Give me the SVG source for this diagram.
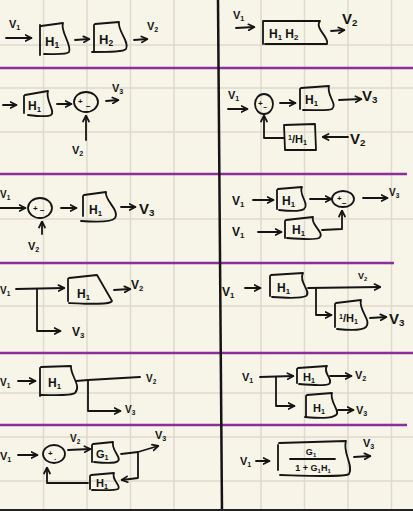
<svg xmlns="http://www.w3.org/2000/svg" width="413" height="511" viewBox="0 0 413 511">
  <defs>
    <marker id="ah" viewBox="0 0 8 8" refX="6.5" refY="4" markerWidth="8" markerHeight="8" markerUnits="userSpaceOnUse" orient="auto">
      <path d="M1,1 L7,4 L1,7" fill="none" stroke="#141414" stroke-width="1.7" stroke-linecap="round" stroke-linejoin="round"/>
    </marker>
    <style>
      .grid { stroke: #dedace; stroke-width: 1.5; }
      .rule { stroke: #8b2f9b; stroke-width: 2.5; }
      .ink { fill: none; stroke: #141414; stroke-width: 1.8; stroke-linecap: round; stroke-linejoin: round; }
      .arr { fill: none; stroke: #141414; stroke-width: 1.8; stroke-linecap: round; stroke-linejoin: round; marker-end: url(#ah); }
      text { font-family: "Liberation Sans", Arial, sans-serif; fill: #141414; font-weight: bold; }
      .s { font-size: 0.65em; }
    </style>
  </defs>

  <!-- paper -->
  <rect x="0" y="0" width="413" height="511" fill="#f7f4e8"/>
  <g id="grid">
    <line class="grid" x1="43.5" y1="0" x2="43.5" y2="511"/>
    <line class="grid" x1="87" y1="0" x2="87" y2="511"/>
    <line class="grid" x1="130.5" y1="0" x2="130.5" y2="511"/>
    <line class="grid" x1="174" y1="0" x2="174" y2="511"/>
    <line class="grid" x1="261" y1="0" x2="261" y2="511"/>
    <line class="grid" x1="304.5" y1="0" x2="304.5" y2="511"/>
    <line class="grid" x1="348" y1="0" x2="348" y2="511"/>
    <line class="grid" x1="391.5" y1="0" x2="391.5" y2="511"/>
    <line class="grid" x1="0" y1="45" x2="413" y2="45"/>
    <line class="grid" x1="0" y1="88" x2="413" y2="88"/>
    <line class="grid" x1="0" y1="132" x2="413" y2="132"/>
    <line class="grid" x1="0" y1="219" x2="413" y2="219"/>
    <line class="grid" x1="0" y1="306" x2="413" y2="306"/>
    <line class="grid" x1="0" y1="393" x2="413" y2="393"/>
    <line class="grid" x1="0" y1="437" x2="413" y2="437"/>
    <line class="grid" x1="0" y1="481" x2="413" y2="481"/>
  </g>
  <g id="rules">
    <line class="rule" x1="0" y1="68" x2="413" y2="68"/>
    <line class="rule" x1="0" y1="174" x2="407" y2="174"/>
    <line class="rule" x1="0" y1="263" x2="394" y2="263"/>
    <line class="rule" x1="0" y1="353" x2="413" y2="353"/>
    <line class="rule" x1="0" y1="425" x2="407" y2="425"/>
    <line x1="218" y1="0" x2="222" y2="511" stroke="#141414" stroke-width="2.5"/>
    <rect x="0" y="509" width="413" height="2" fill="#222"/>
  </g>

  <!-- row 1: series blocks -->
  <g id="r1-left">
    <text x="9" y="28" font-size="11">V<tspan class="s" dy="2">1</tspan></text>
    <g id="r1l-h1">
      <path class="ink" d="M40 25 L40 55 M41 26 L63 23 C60 32 72 44 69 52 C67 55 55 54 44 54"/>
      <text x="45" y="46" font-size="13">H<tspan class="s" dy="2">1</tspan></text>
    </g>
    <g id="r1l-h2">
      <path class="ink" d="M94 25 L94 51 M95 24 L119 22 C117 30 130 42 126 49 C124 52 110 52 92 52"/>
      <text x="99" y="44" font-size="13">H<tspan class="s" dy="2">2</tspan></text>
    </g>
    <text x="147" y="30" font-size="11">V<tspan class="s" dy="2">2</tspan></text>
  </g>
  <g id="r1-right">
    <text x="233" y="19" font-size="11">V<tspan class="s" dy="2">1</tspan></text>
    <g id="r1r-h1h2">
      <path class="ink" d="M263 21 L263 44 M264 21 L320 21 C314 28 330 38 327 44 L265 44"/>
      <text x="269" y="38" font-size="12">H<tspan class="s" dy="2">1</tspan><tspan dy="-2"> H</tspan><tspan class="s" dy="2">2</tspan></text>
    </g>
    <text x="342" y="24" font-size="15">V<tspan class="s" dy="2">2</tspan></text>
  </g>

  <!-- row 2: moving a summing point -->
  <g id="r2-left">
    <g id="r2l-h1">
      <path class="ink" d="M24 96 L24 113 M25 95 L48 91 C45 100 56 112 51 115 C48 117 36 116 28 115"/>
      <text x="28" y="110" font-size="12">H<tspan class="s" dy="2">1</tspan></text>
    </g>
    <g id="r2l-sum">
      <ellipse class="ink" cx="86" cy="102" rx="12" ry="10"/>
      <text x="78" y="104" font-size="8">+</text>
      <text x="86" y="109" font-size="8">−</text>
    </g>
    <text x="112" y="92" font-size="11">V<tspan class="s" dy="2">3</tspan></text>
    <text x="72" y="154" font-size="11">V<tspan class="s" dy="2">2</tspan></text>
  </g>
  <g id="r2-right">
    <text x="228" y="99" font-size="11">V<tspan class="s" dy="2">1</tspan></text>
    <g id="r2r-sum">
      <ellipse class="ink" cx="264" cy="104" rx="9" ry="10"/>
      <text x="258" y="106" font-size="8">+</text>
      <text x="263" y="110" font-size="7">−</text>
    </g>
    <g id="r2r-h1">
      <path class="ink" d="M300 89 L300 109 M301 88 L329 86 C326 95 338 104 332 109 C329 111 316 110 303 110"/>
      <text x="305" y="104" font-size="12">H<tspan class="s" dy="2">1</tspan></text>
    </g>
    <text x="362" y="101" font-size="15">V<tspan class="s" dy="2">3</tspan></text>
    <g id="r2r-inv">
      <path class="ink" d="M284 125 L315 124 L316 150 L285 150 Z"/>
      <text x="288" y="143" font-size="11"><tspan class="s" dy="-3">1</tspan><tspan dy="3">/H</tspan><tspan class="s" dy="2">1</tspan></text>
    </g>
    <text x="350" y="144" font-size="15">V<tspan class="s" dy="2">2</tspan></text>
  </g>

  <!-- row 3: summing point ahead of block -->
  <g id="r3-left">
    <text x="0" y="198" font-size="10">V<tspan class="s" dy="2">1</tspan></text>
    <g id="r3l-sum">
      <ellipse class="ink" cx="40" cy="208" rx="12" ry="10"/>
      <text x="33" y="211" font-size="8">+</text>
      <text x="40" y="213" font-size="8">−</text>
    </g>
    <text x="28" y="250" font-size="11">V<tspan class="s" dy="2">2</tspan></text>
    <g id="r3l-h1">
      <path class="ink" d="M83 196 L83 216 M84 195 L106 192 C104 200 120 210 115 218 C112 222 95 222 81 221"/>
      <text x="89" y="214" font-size="12">H<tspan class="s" dy="2">1</tspan></text>
    </g>
    <text x="139" y="214" font-size="15">V<tspan class="s" dy="2">3</tspan></text>
  </g>
  <g id="r3-right">
    <text x="232" y="205" font-size="12">V<tspan class="s" dy="2">1</tspan></text>
    <g id="r3r-h1a">
      <path class="ink" d="M277 190 L277 209 M278 189 L302 187 C298 194 310 204 304 209 C300 212 288 211 279 210"/>
      <text x="282" y="205" font-size="12">H<tspan class="s" dy="2">1</tspan></text>
    </g>
    <g id="r3r-sum">
      <ellipse class="ink" cx="343" cy="199" rx="11" ry="8"/>
      <text x="337" y="201" font-size="8">+</text>
      <text x="342" y="206" font-size="8">−</text>
    </g>
    <text x="389" y="196" font-size="10">V<tspan class="s" dy="2">3</tspan></text>
    <text x="232" y="236" font-size="12">V<tspan class="s" dy="2">1</tspan></text>
    <g id="r3r-h1b">
      <path class="ink" d="M285 221 L285 238 M286 220 L313 217 C310 225 326 233 319 238 C315 240 300 239 287 238"/>
      <text x="292" y="234" font-size="12">H<tspan class="s" dy="2">1</tspan></text>
    </g>
  </g>

  <!-- row 4: moving a takeoff point ahead of block -->
  <g id="r4-left">
    <text x="0" y="294" font-size="10">V<tspan class="s" dy="2">1</tspan></text>
    <g id="r4l-h1">
      <path class="ink" d="M68 279 L68 301 M69 278 L97 275 L112 301 C110 305 90 304 69 303"/>
      <text x="77" y="298" font-size="12">H<tspan class="s" dy="2">1</tspan></text>
    </g>
    <text x="131" y="289" font-size="12">V<tspan class="s" dy="2">2</tspan></text>
    <text x="72" y="336" font-size="12">V<tspan class="s" dy="2">3</tspan></text>
  </g>
  <g id="r4-right">
    <text x="222" y="296" font-size="12">V<tspan class="s" dy="2">1</tspan></text>
    <g id="r4r-h1">
      <path class="ink" d="M270 276 L270 296 M271 275 L303 273 C298 282 312 292 306 296 C302 298 286 298 272 297"/>
      <text x="277" y="292" font-size="12">H<tspan class="s" dy="2">1</tspan></text>
    </g>
    <text x="358" y="279" font-size="9">V<tspan class="s" dy="2">2</tspan></text>
    <g id="r4r-inv">
      <path class="ink" d="M335 304 L335 327 M336 303 L361 300 C358 310 372 320 366 327 C362 331 347 330 337 329"/>
      <text x="339" y="322" font-size="11"><tspan class="s" dy="-3">1</tspan><tspan dy="3">/H</tspan><tspan class="s" dy="2">1</tspan></text>
    </g>
    <text x="389" y="324" font-size="15">V<tspan class="s" dy="2">3</tspan></text>
  </g>

  <!-- row 5: moving a takeoff point past block -->
  <g id="r5-left">
    <text x="0" y="386" font-size="10">V<tspan class="s" dy="2">1</tspan></text>
    <g id="r5l-h1">
      <path class="ink" d="M40 368 L40 396 M41 367 L71 366 C70 375 82 386 75 393 C71 396 55 395 41 395"/>
      <text x="48" y="387" font-size="12">H<tspan class="s" dy="2">1</tspan></text>
    </g>
    <text x="146" y="382" font-size="10">V<tspan class="s" dy="2">2</tspan></text>
    <text x="125" y="413" font-size="10">V<tspan class="s" dy="2">3</tspan></text>
  </g>
  <g id="r5-right">
    <text x="242" y="381" font-size="11">V<tspan class="s" dy="2">1</tspan></text>
    <g id="r5r-h1a">
      <path class="ink" d="M297 369 L297 383 M298 368 L327 366 C322 372 334 380 329 384 C325 386 310 385 299 384"/>
      <text x="303" y="381" font-size="11">H<tspan class="s" dy="2">1</tspan></text>
    </g>
    <text x="355" y="379" font-size="11">V<tspan class="s" dy="2">2</tspan></text>
    <g id="r5r-h1b">
      <path class="ink" d="M306 396 L306 416 M307 395 L332 393 C329 401 341 412 336 415 C331 419 318 418 305 417"/>
      <text x="313" y="412" font-size="11">H<tspan class="s" dy="2">1</tspan></text>
    </g>
    <text x="356" y="414" font-size="11">V<tspan class="s" dy="2">3</tspan></text>
  </g>

  <!-- row 6: feedback loop -->
  <g id="r6-left">
    <text x="0" y="460" font-size="11">V<tspan class="s" dy="2">1</tspan></text>
    <g id="r6l-sum">
      <ellipse class="ink" cx="54" cy="454" rx="11" ry="9"/>
      <text x="48" y="456" font-size="8">+</text>
      <text x="54" y="460" font-size="8">.</text>
    </g>
    <text x="70" y="442" font-size="10">V<tspan class="s" dy="2">2</tspan></text>
    <g id="r6l-g1">
      <path class="ink" d="M92 445 L92 462 M93 444 L113 442 C111 450 122 458 118 461 C115 464 103 463 94 462"/>
      <text x="96" y="458" font-size="11">G<tspan class="s" dy="2">1</tspan></text>
    </g>
    <text x="155" y="439" font-size="11">V<tspan class="s" dy="2">3</tspan></text>
    <g id="r6l-h1">
      <path class="ink" d="M90 476 L90 489 M91 475 L114 473 C111 480 122 486 118 489 C114 491 102 490 92 490"/>
      <text x="96" y="487" font-size="11">H<tspan class="s" dy="2">1</tspan></text>
    </g>
  </g>
  <g id="r6-right">
    <text x="240" y="465" font-size="11">V<tspan class="s" dy="2">1</tspan></text>
    <g id="r6r-cl">
      <path class="ink" d="M278 445 L278 470 M279 443 L346 441 C342 452 354 466 349 474 C346 477 320 476 280 475"/>
      <text x="311" y="455" font-size="9" text-anchor="middle">G<tspan class="s" dy="2">1</tspan></text>
      <line class="ink" x1="290" y1="459" x2="335" y2="459"/>
      <text x="313" y="471" font-size="9" text-anchor="middle">1 + G<tspan class="s" dy="2">1</tspan><tspan dy="-2">H</tspan><tspan class="s" dy="2">1</tspan></text>
    </g>
    <text x="363" y="447" font-size="11">V<tspan class="s" dy="2">3</tspan></text>
  </g>

  <!-- signal lines -->
  <g id="connectors">
    <path class="arr" d="M6 38 L31 38"/>
    <path class="arr" d="M75 40 L89 39"/>
    <path class="arr" d="M134 40 L147 39"/>
    <path class="arr" d="M236 28 L254 27"/>
    <path class="arr" d="M331 31 L344 30"/>

    <path class="arr" d="M3 105 L16 105"/>
    <path class="arr" d="M57 104 L71 104"/>
    <path class="arr" d="M106 101 L118 100"/>
    <path class="arr" d="M86 140 L86 116"/>
    <path class="arr" d="M228 109 L247 109"/>
    <path class="arr" d="M280 103 L295 103"/>
    <path class="arr" d="M339 100 L361 99"/>
    <path class="arr" d="M284 138 L264 138 L264 116"/>
    <path class="arr" d="M348 137 L323 137"/>

    <path class="arr" d="M0 208 L25 208"/>
    <path class="arr" d="M42 234 L42 222"/>
    <path class="arr" d="M61 208 L76 208"/>
    <path class="arr" d="M121 207 L135 207"/>
    <path class="arr" d="M253 200 L273 200"/>
    <path class="arr" d="M310 199 L331 199"/>
    <path class="arr" d="M363 198 L387 198"/>
    <path class="arr" d="M258 232 L281 232"/>
    <path class="arr" d="M322 230 L342 229 L342 211"/>

    <path class="arr" d="M16 289 L64 288"/>
    <path class="arr" d="M37 289 L37 331 L60 331"/>
    <path class="arr" d="M114 290 L130 289"/>
    <path class="arr" d="M245 288 L260 288"/>
    <path class="arr" d="M308 288 L380 287"/>
    <path class="arr" d="M316 288 L316 315 L331 315"/>
    <path class="arr" d="M370 318 L386 317"/>

    <path class="arr" d="M18 381 L35 381"/>
    <path class="ink" d="M76 381 L88 380 L140 377"/>
    <path class="arr" d="M88 380 L88 411 L120 411"/>
    <path class="arr" d="M260 377 L293 376"/>
    <path class="arr" d="M276 377 L276 406 L294 406"/>
    <path class="arr" d="M330 376 L351 376"/>
    <path class="arr" d="M338 410 L353 410"/>

    <path class="arr" d="M18 455 L37 455"/>
    <path class="arr" d="M68 450 L90 449"/>
    <path class="arr" d="M121 454 L138 452 L158 446"/>
    <path class="arr" d="M138 452 L138 478 L122 480"/>
    <path class="arr" d="M88 483 L47 483 L47 468"/>
    <path class="arr" d="M256 461 L269 461"/>
    <path class="arr" d="M354 457 L370 456"/>
  </g>
</svg>
